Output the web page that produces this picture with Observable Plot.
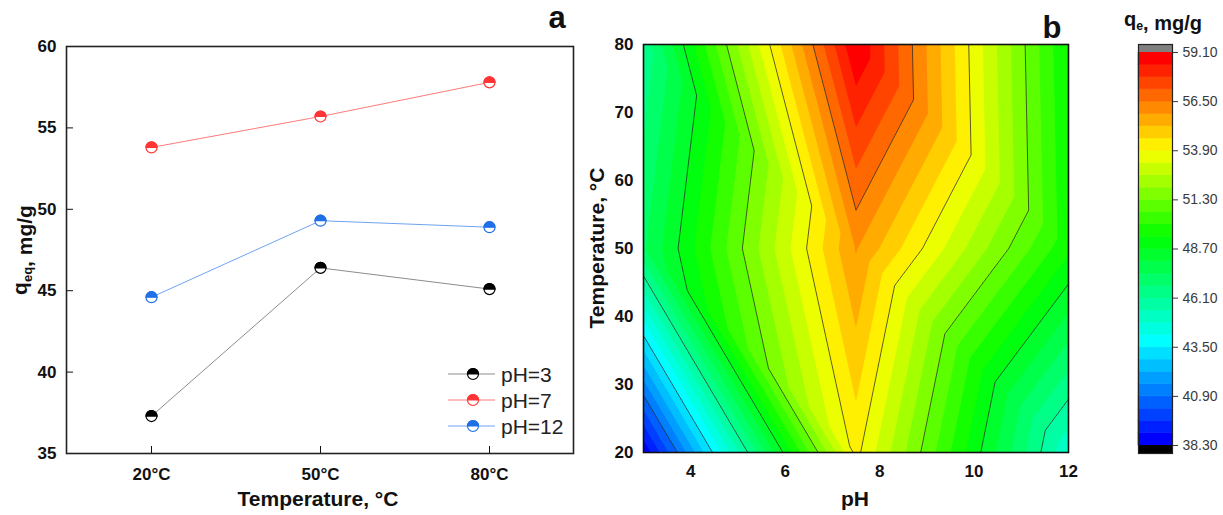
<!DOCTYPE html>
<html>
<head>
<meta charset="utf-8">
<script src="https://cdn.jsdelivr.net/npm/d3@7"></script>
<script src="https://cdn.jsdelivr.net/npm/@observablehq/plot@0.6"></script>
<style>
  html, body { margin: 0; padding: 0; background: #fff; }
  #root { position: relative; width: 1223px; height: 515px; overflow: hidden; font-family: "Liberation Sans", Arial, sans-serif; }
  #root > svg, #root > div { position: absolute; top: 0; }
</style>
</head>
<body>
<div id="root"></div>
<script>
// ---------- Panel a data ----------
const temps = ["20°C", "50°C", "80°C"];
const qPH3  = [37.3, 46.4, 45.1];
const qPH7  = [53.8, 55.7, 57.8];
const qPH12 = [44.6, 49.3, 48.9];
const seriesNames = ["pH=3", "pH=7", "pH=12"];
const lineColors = ["#8c8c8c", "#ff7a7a", "#6ea4f2"];
const markColors = ["#000000", "#ff3434", "#1f6fe6"];
const qTicks = [35, 40, 45, 50, 55, 60];

// ---------- Panel b data (grid nodes) ----------
const gridPH = [3, 7.5, 12];
const gridT  = [20, 50, 80];
const qT20 = [38.4, 54.1, 44.9];
const qT50 = [47.3, 55.9, 49.5];
const qT80 = [46.3, 59.1, 49.3];
const phTicks = [4, 6, 8, 10, 12];
const tTicks = [20, 30, 40, 50, 60, 70, 80];
const levelTicks = [38.3, 40.9, 43.5, 46.1, 48.7, 51.3, 53.9, 56.5, 59.1];

const FONT = '"Liberation Sans", Arial, sans-serif';
const root = document.getElementById("root");

// fill levels: 4 sub-bands per labelled step
const fillLevels = d3.range(33).map(i => +(levelTicks[0] + 0.65 * i).toFixed(2));
const colorOpts = {
  type: "linear",
  domain: [38.3, 43.5, 49.0, 53.6, 58.45],
  range: ["#0000ff", "#00ffff", "#00ff00", "#ffff00", "#ff0000"],
  clamp: true
};

// ---------- Panel a ----------
const allQ = [qPH3, qPH7, qPH12];
const lineData = seriesNames.flatMap((s, k) => temps.map((t, i) => ({series: s, temp: t, q: allQ[k][i], k})));
const halfTop = {
  draw(ctx, size) {
    const r = Math.sqrt(size / Math.PI);
    ctx.moveTo(-r, 0);
    ctx.arc(0, 0, r, Math.PI, 2 * Math.PI);
    ctx.closePath();
  }
};
const plotA = Plot.plot({
  width: 600, height: 515,
  marginLeft: 66, marginRight: 27, marginTop: 46, marginBottom: 62,
  style: {fontFamily: FONT, fontSize: "17px", fontWeight: "bold", color: "#111", background: "transparent"},
  x: {type: "point", domain: temps, padding: 0.5, tickSize: -7, tickPadding: 21, label: null},
  y: {domain: [35, 60], ticks: qTicks, tickSize: -7, tickPadding: 17, label: null},
  marks: [
    Plot.line(lineData, {x: "temp", y: "q", z: "series", stroke: d => lineColors[d.k], strokeWidth: 1}),
    Plot.dot(lineData, {x: "temp", y: "q", r: 5.5, fill: "white", stroke: d => markColors[d.k], strokeWidth: 1.2}),
    Plot.dot(lineData, {x: "temp", y: "q", r: 5.5, symbol: halfTop, fill: d => markColors[d.k], stroke: d => markColors[d.k], strokeWidth: 1.2}),
    Plot.frame({stroke: "#222", strokeWidth: 1.6})
  ]
});
plotA.style.left = "0px";
root.appendChild(plotA);

// ---------- Panel b ----------
const zRows = [qT20, qT50, qT80];
function qAt(x, y) {
  const i = Math.min(gridPH.length - 2, Math.max(0, d3.bisectRight(gridPH, x) - 1));
  const j = Math.min(gridT.length - 2, Math.max(0, d3.bisectRight(gridT, y) - 1));
  const u = (x - gridPH[i]) / (gridPH[i + 1] - gridPH[i]);
  const v = (y - gridT[j]) / (gridT[j + 1] - gridT[j]);
  const z00 = zRows[j][i], z10 = zRows[j][i + 1], z01 = zRows[j + 1][i], z11 = zRows[j + 1][i + 1];
  if (u + v <= 1) return z00 + u * (z10 - z00) + v * (z01 - z00);
  return z11 + (1 - u) * (z01 - z11) + (1 - v) * (z10 - z11);
}
const ext = {x1: gridPH[0], x2: gridPH[gridPH.length - 1], y1: gridT[0], y2: gridT[gridT.length - 1]};
const plotB = Plot.plot({
  width: 500, height: 515,
  marginLeft: 53, marginRight: 22, marginTop: 44, marginBottom: 63,
  style: {fontFamily: FONT, fontSize: "17px", fontWeight: "bold", color: "#111", background: "transparent"},
  x: {domain: [ext.x1, ext.x2], ticks: phTicks, tickSize: -6, tickPadding: 18, label: null},
  y: {domain: [ext.y1, ext.y2], ticks: tTicks, tickSize: -6, tickPadding: 16, label: null},
  color: colorOpts,
  marks: [
    Plot.contour({value: qAt, ...ext, thresholds: fillLevels, fill: "value", stroke: "none", pixelSize: 1}),
    Plot.contour({value: qAt, ...ext, thresholds: levelTicks.slice(1, -1), fill: "none", stroke: "#2b2b2b", strokeWidth: 0.9, strokeOpacity: 0.85, pixelSize: 1}),
    Plot.frame({stroke: "#111", strokeWidth: 1.6})
  ]
});
plotB.style.left = "590px";
root.appendChild(plotB);

// ---------- Colour bar ----------
const step = fillLevels[1] - fillLevels[0];
const bands = fillLevels.slice(0, -1).map((t, i) => ({lo: t, hi: fillLevels[i + 1]}));
const lo = levelTicks[0], hi = levelTicks[levelTicks.length - 1];
const over = step * 0.65;
const plotC = Plot.plot({
  width: 123, height: 515,
  marginLeft: 38, marginRight: 51, marginTop: 44, marginBottom: 62,
  style: {fontFamily: FONT, fontSize: "14px", color: "#3a3a3a", background: "transparent"},
  x: {domain: [0, 1], axis: null},
  y: {domain: [lo - over, hi + over], axis: "right", ticks: levelTicks, tickFormat: d => d.toFixed(2), tickSize: 5, tickPadding: 5, label: null},
  color: colorOpts,
  marks: [
    Plot.rectY(bands, {x1: 0, x2: 1, y1: "lo", y2: "hi", fill: "lo", stroke: "lo", strokeWidth: 0.6}),
    Plot.rectY([hi], {x1: 0, x2: 1, y1: d => d, y2: d => d + over, fill: "#808080"}),
    Plot.rectY([lo], {x1: 0, x2: 1, y1: d => d - over, y2: d => d, fill: "#000000"}),
    Plot.frame({stroke: "#222", strokeWidth: 1.2})
  ]
});
plotC.style.left = "1100px";
root.appendChild(plotC);

// ---------- Titles, labels and legend overlay ----------
const ov = d3.select(root).append("svg")
  .attr("width", 1223).attr("height", 515)
  .style("left", "0px").style("pointer-events", "none")
  .attr("font-family", FONT);

function label(x, y, parts, opts = {}) {
  const size = opts.size || 21;
  const t = ov.append("text")
    .attr("x", x).attr("y", y)
    .attr("text-anchor", opts.anchor || "middle")
    .attr("font-size", size)
    .attr("font-weight", opts.weight || "bold")
    .attr("fill", opts.fill || "#111");
  if (opts.rotate) t.attr("transform", `rotate(-90 ${x} ${y})`);
  for (const p of parts) {
    if (typeof p === "string") t.append("tspan").text(p);
    else {
      t.append("tspan").attr("font-size", size * 0.62).attr("dy", size * 0.22).text(p.sub);
      t.append("tspan").attr("dy", -size * 0.22).text("");
    }
  }
  return t;
}
label(557, 28, ["a"], {size: 31});
label(1052, 38, ["b"], {size: 31});
label(27, 250, ["q", {sub: "eq"}, ", mg/g"], {rotate: true});
label(318, 506, ["Temperature, °C"]);
label(855, 506, ["pH"]);
label(604, 248, ["Temperature, °C"], {rotate: true});
label(1163, 26, ["q", {sub: "e"}, ", mg/g"], {size: 20});

// legend
seriesNames.forEach((s, k) => {
  const y = 374 + 26 * k, cx = 473, r = 5.5;
  ov.append("line").attr("x1", 448).attr("x2", 495).attr("y1", y).attr("y2", y)
    .attr("stroke", lineColors[k]).attr("stroke-width", 1);
  ov.append("circle").attr("cx", cx).attr("cy", y).attr("r", r)
    .attr("fill", "white").attr("stroke", markColors[k]).attr("stroke-width", 1.2);
  ov.append("path").attr("d", `M${cx - r},${y}A${r},${r} 0 0 1 ${cx + r},${y}Z`)
    .attr("fill", markColors[k]).attr("stroke", markColors[k]).attr("stroke-width", 1.2);
  ov.append("text").attr("x", 501).attr("y", y + 7.5).attr("font-size", 21)
    .attr("fill", "#222").text(s);
});
</script>
</body>
</html>
